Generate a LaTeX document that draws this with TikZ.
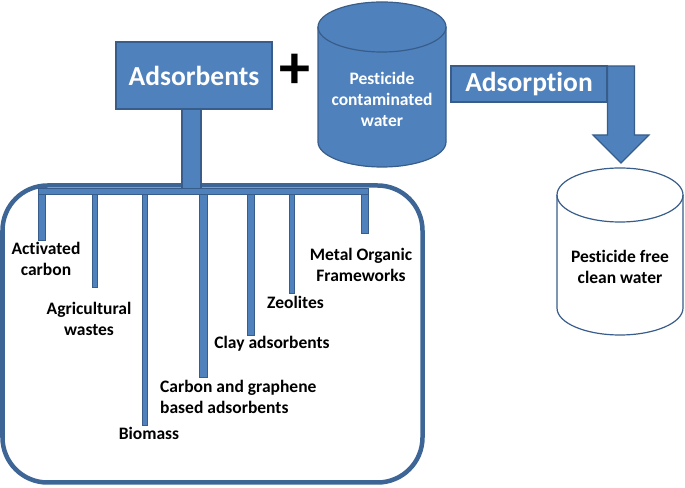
\documentclass[tikz,border=0pt]{standalone}
\usepackage{fontspec}
\setmainfont{Carlito}[Ligatures={NoCommon}]
\definecolor{boxblue}{HTML}{4F81BD}
\definecolor{lineblue}{HTML}{385D8A}
\definecolor{frameblue}{HTML}{3D6596}
\begin{document}
\begin{tikzpicture}[x=1pt,y=1pt,
  bluebox/.style={fill=boxblue, draw=lineblue, line width=1.2pt},
  thinbox/.style={fill=boxblue, draw=lineblue, line width=0.8pt},
  bigtext/.style={font=\bfseries\fontsize{27.5}{33}\selectfont, text=white},
  itemtext/.style={font=\bfseries\fontsize{17.5}{21}\selectfont, align=center, inner sep=0pt}]
  \useasboundingbox (0,0) rectangle (685,487);

  % Cadre des adsorbants
  \draw[frameblue, line width=4.5pt, rounded corners=45pt] (2.5,4.5) rectangle (422.5,301.5);

  % Adsorbants et tige
  \node[bluebox, bigtext, minimum width=156, minimum height=67] (ads) at (194,411.5) {Adsorbents};
  \draw[bluebox] (182,296) rectangle (201,378);

  % Branches
  \foreach \xa/\xb/\yb in {38/45/247, 92/97/200, 142/147/62, 199/207/110, 247/254/152, 289/294/194, 361/368/254}
    \draw[thinbox] (\xa,\yb) rectangle (\xb,294);
  \coordinate (barl) at (38,293);
  \coordinate (barr) at (368,299);
  \draw[thinbox] (barl) rectangle (barr);

  % Types d'adsorbants
  \node[itemtext] (ac) at (46,228.5) {Activated\\carbon};
  \node[itemtext] (agri) at (89,168.5) {Agricultural\\wastes};
  \node[itemtext] (bio) at (149,54) {Biomass};
  \node[itemtext, align=left, anchor=west] (cg) at (160,90.5) {Carbon and graphene\\based adsorbents};
  \node[itemtext] (clay) at (272,143) {Clay adsorbents};
  \node[itemtext] (zeo) at (295.5,185) {Zeolites};
  \node[itemtext] (mof) at (361,222) {Metal Organic\\Frameworks};

  % Plus
  \node[font=\bfseries\fontsize{62}{62}\selectfont, inner sep=0pt] (plus) at (295,416) {+};

  % Eau contaminee
  \draw[bluebox] (318,460) -- (318,345) arc[start angle=180, end angle=360, x radius=64, y radius=25]
    -- (446,460) arc[start angle=0, end angle=180, x radius=64, y radius=25] -- cycle;
  \draw[lineblue, line width=1.2pt] (318,460) arc[start angle=180, end angle=360, x radius=64, y radius=25];
  \node[itemtext, text=white] (dirty) at (382,388) {Pesticide\\contaminated\\water};

  % Adsorption
  \node[bluebox, bigtext, minimum width=156, minimum height=36, inner sep=0pt] (adsorption) at (529,403) {Adsorption};
  \draw[bluebox] (607.5,421) -- (634.5,421) -- (634.5,352) -- (649,352) -- (621,324)
    -- (593,352) -- (607.5,352) -- cycle;

  % Eau propre
  \draw[fill=white, draw=lineblue, line width=1.2pt] (557,292) -- (557,179)
    arc[start angle=180, end angle=360, x radius=63, y radius=27]
    -- (683,292) arc[start angle=0, end angle=180, x radius=63, y radius=27] -- cycle;
  \draw[lineblue, line width=1.2pt] (557,292) arc[start angle=180, end angle=360, x radius=63, y radius=27];
  \node[itemtext] (clean) at (620,220.5) {Pesticide free\\clean water};
\end{tikzpicture}
\end{document}
